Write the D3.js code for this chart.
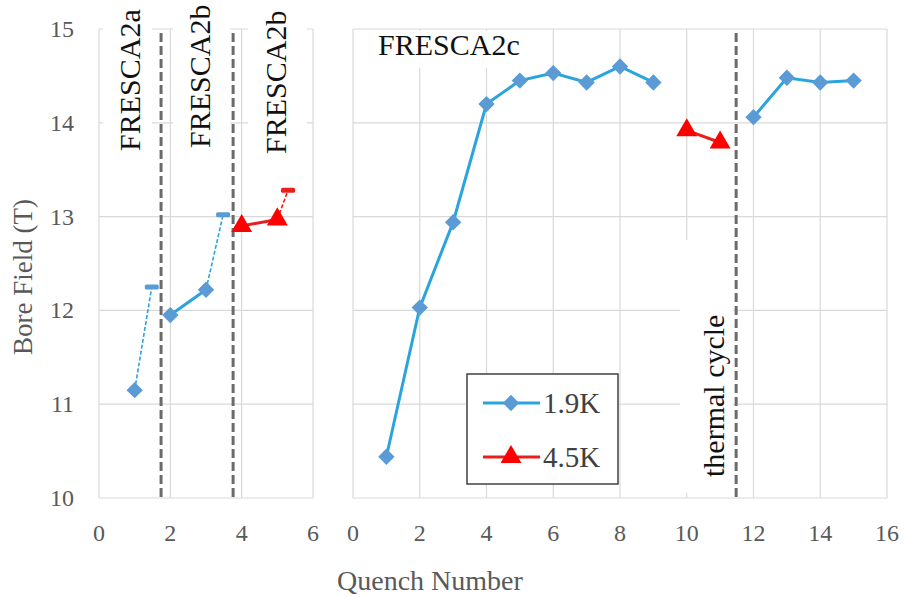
<!DOCTYPE html>
<html>
<head>
<meta charset="utf-8">
<script src="https://cdn.jsdelivr.net/npm/d3@7"></script>
<style>
  body { margin: 0; background: #fff; }
  text { font-family: "Liberation Serif", "Times New Roman", serif; }
</style>
</head>
<body>
<div id="chart"></div>
<script>
var svgwidth = 905;
var svgheight = 597;

// ---- data ----
var yTicks = [10, 11, 12, 13, 14, 15];
var xTicksLeft = [0, 2, 4, 6];
var xTicksRight = [0, 2, 4, 6, 8, 10, 12, 14, 16];

// left panel, FRESCA2a / FRESCA2b
var qA = [1];            var fA = [11.15];          // 1.9K measured
var qAExt = [1, 1.48];   var fAExt = [11.15, 12.25]; // extrapolated limit
var qB = [2, 3];         var fB = [11.95, 12.22];
var qBExt = [3, 3.48];   var fBExt = [12.22, 13.02];
var qB45 = [4, 5];       var fB45 = [12.9, 12.97];
var qB45Ext = [5, 5.3];  var fB45Ext = [12.97, 13.28];
var sepLeft = [1.74, 3.76];

// right panel, FRESCA2c
var qC1 = [1, 2, 3, 4, 5, 6, 7, 8, 9];
var fC1 = [10.44, 12.03, 12.94, 14.2, 14.45, 14.53, 14.43, 14.6, 14.43];
var qC45 = [10, 11];
var fC45 = [13.92, 13.79];
var qC2 = [12, 13, 14, 15];
var fC2 = [14.06, 14.48, 14.43, 14.45];
var sepRight = [11.48];

var legendNames = ["1.9K", "4.5K"];

var blueLine = "#2ba4de";
var blueMark = "#5b9bd5";
var redLine = "#e8201c";
var redMark = "#ff0000";
var gridColor = "#d9d9d9";
var tickColor = "#595959";

var svg = d3.select("#chart")
            .append("svg")
            .attr("width", svgwidth)
            .attr("height", svgheight);

var y = d3.scaleLinear().domain([10, 15]).range([498, 29]);
var xL = d3.scaleLinear().domain([0, 6]).range([99, 313]);
var xR = d3.scaleLinear().domain([0, 16]).range([353, 887]);

function grid(xs, ticks) {
    var g = svg.append("g");
    g.selectAll(".h").data(yTicks).join("line")
        .attr("x1", xs.range()[0]).attr("x2", xs.range()[1])
        .attr("y1", d => y(d)).attr("y2", d => y(d))
        .attr("stroke", gridColor).attr("stroke-width", 1.2);
    g.selectAll(".v").data(ticks).join("line")
        .attr("x1", d => xs(d)).attr("x2", d => xs(d))
        .attr("y1", y(15)).attr("y2", y(10))
        .attr("stroke", gridColor).attr("stroke-width", 1.2);
    g.selectAll(".xl").data(ticks).join("text")
        .attr("x", d => xs(d)).attr("y", 541)
        .attr("text-anchor", "middle")
        .style("font-size", "24px").style("fill", tickColor)
        .text(d => d);
}
grid(xL, xTicksLeft);
grid(xR, xTicksRight);

// y tick labels (left panel only)
svg.append("g").selectAll("text").data(yTicks).join("text")
    .attr("x", 74).attr("y", d => y(d) + 8)
    .attr("text-anchor", "end")
    .style("font-size", "24px").style("fill", tickColor)
    .text(d => d);

// white label boxes over the grid
var boxes = [[103, 0, 49, 168], [173, 0, 57, 168], [248, 0, 59, 168],
             [365, 31, 175, 37], [680, 240, 53, 253]];
svg.append("g").selectAll("rect").data(boxes).join("rect")
    .attr("x", d => d[0]).attr("y", d => d[1])
    .attr("width", d => d[2]).attr("height", d => d[3])
    .attr("fill", "#fff");

// vertical dashed separators
function separators(xs, vals) {
    svg.append("g").selectAll("line").data(vals).join("line")
        .attr("x1", d => xs(d)).attr("x2", d => xs(d))
        .attr("y1", 33).attr("y2", y(10))
        .attr("stroke", "#6b6b6b").attr("stroke-width", 3)
        .attr("stroke-dasharray", "9,4");
}
separators(xL, sepLeft);
separators(xR, sepRight);

// label texts
function vlabel(x, yb, txt) {
    svg.append("text")
        .attr("transform", "translate(" + x + "," + yb + ") rotate(-90)")
        .style("font-size", "30px").style("fill", "#111")
        .text(txt);
}
vlabel(140, 151, "FRESCA2a");
vlabel(210, 148, "FRESCA2b");
vlabel(286, 154, "FRESCA2b");
vlabel(724, 477, "thermal cycle");
svg.append("text")
    .attr("x", 378).attr("y", 55)
    .style("font-size", "30px").style("fill", "#111")
    .text("FRESCA2c");

// series
var diamond = d3.symbol().type(d3.symbolDiamond2).size(170);
var triangle = d3.symbol().type(d3.symbolTriangle).size(190);

function series(xs, qs, fs, color, width, dash) {
    var line = d3.line().x(d => xs(d[0])).y(d => y(d[1]));
    svg.append("path")
        .datum(d3.zip(qs, fs))
        .attr("d", line)
        .attr("fill", "none")
        .attr("stroke", color)
        .attr("stroke-width", width)
        .attr("stroke-dasharray", dash || null);
}
function markers(xs, qs, fs, sym, color) {
    svg.append("g").selectAll("path").data(d3.zip(qs, fs)).join("path")
        .attr("transform", d => "translate(" + xs(d[0]) + "," + y(d[1]) + ")")
        .attr("d", sym)
        .attr("fill", color);
}
function dashMark(xs, q, f, color) {
    svg.append("rect")
        .attr("x", xs(q) - 7).attr("y", y(f) - 2.5)
        .attr("width", 14).attr("height", 5).attr("rx", 1.5)
        .attr("fill", color);
}

// left panel
series(xL, qAExt, fAExt, blueLine, 1.6, "4,2");
dashMark(xL, qAExt[1], fAExt[1], blueMark);
markers(xL, qA, fA, diamond, blueMark);

series(xL, qBExt, fBExt, blueLine, 1.6, "4,2");
dashMark(xL, qBExt[1], fBExt[1], blueMark);
series(xL, qB, fB, blueLine, 3);
markers(xL, qB, fB, diamond, blueMark);

series(xL, qB45Ext, fB45Ext, redLine, 1.6, "4,2");
dashMark(xL, qB45Ext[1], fB45Ext[1], redLine);
series(xL, qB45, fB45, redLine, 3);
markers(xL, qB45, fB45, triangle, redMark);

// right panel
series(xR, qC1, fC1, blueLine, 3);
markers(xR, qC1, fC1, diamond, blueMark);
series(xR, qC45, fC45, redLine, 3);
markers(xR, qC45, fC45, triangle, redMark);
series(xR, qC2, fC2, blueLine, 3);
markers(xR, qC2, fC2, diamond, blueMark);

// legend
var lg = svg.append("g");
lg.append("rect")
    .attr("x", 467).attr("y", 374).attr("width", 151).attr("height", 110)
    .attr("fill", "#fff").attr("stroke", "#404040").attr("stroke-width", 1.5);
var legendRows = lg.selectAll(".row").data(legendNames).join("g")
    .attr("transform", (d, i) => "translate(0," + (403 + i * 54) + ")");
legendRows.append("line")
    .attr("x1", 483).attr("x2", 540)
    .attr("stroke", (d, i) => i ? redLine : blueLine).attr("stroke-width", 3);
legendRows.append("path")
    .attr("transform", "translate(511,0)")
    .attr("d", (d, i) => i ? triangle() : diamond())
    .attr("fill", (d, i) => i ? redMark : blueMark);
legendRows.append("text")
    .attr("x", 543).attr("y", 10)
    .style("font-size", "29px").style("fill", "#404040")
    .text(d => d);

// axis titles
svg.append("text")
    .attr("x", 337).attr("y", 590)
    .style("font-size", "28px").style("fill", tickColor)
    .text("Quench Number");

svg.append("text")
    .attr("transform", "translate(32,277) rotate(-90)")
    .attr("text-anchor", "middle")
    .style("font-size", "27px").style("fill", tickColor)
    .text("Bore Field (T)");
</script>
</body>
</html>
